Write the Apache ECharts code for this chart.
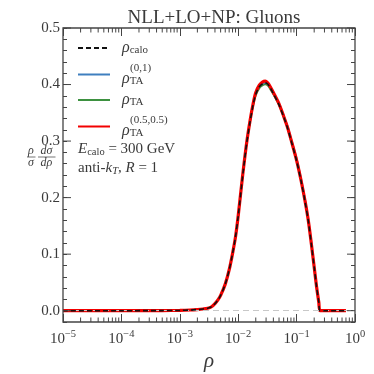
<!DOCTYPE html>
<html>
<head>
<meta charset="utf-8">
<script src="https://cdn.jsdelivr.net/npm/echarts@6/dist/echarts.min.js"></script>
<style>
  html, body { margin: 0; padding: 0; background: #fff; }
  #chart { width: 374px; height: 374px; }
</style>
</head>
<body>
<div id="chart"></div>
<script>
// rho grid (log x) and the four curves
const RHO = [1e-5, 1e-4, 5e-4, 1e-3, 1.5e-3, 2e-3, 2.5e-3, 3e-3, 3.5e-3, 4e-3, 4.5e-3, 5e-3, 6e-3, 7e-3, 8e-3, 9e-3,
  0.01, 0.012, 0.014, 0.016, 0.018, 0.02, 0.023, 0.026, 0.029, 0.032, 0.035, 0.04, 0.05, 0.06, 0.07, 0.08,
  0.1, 0.12, 0.14, 0.16, 0.18, 0.2, 0.22, 0.24, 0.252, 0.3, 0.5, 0.7];
const CALO = [0, 0, 0.0002, 0.0006, 0.0012, 0.002, 0.003, 0.0043, 0.007, 0.0124, 0.019, 0.027, 0.047, 0.072, 0.101, 0.131,
  0.167, 0.241, 0.297, 0.335, 0.364, 0.383, 0.396, 0.401, 0.403, 0.401, 0.395, 0.384, 0.364, 0.343, 0.323, 0.302,
  0.265, 0.228, 0.192, 0.156, 0.115, 0.077, 0.042, 0.015, 0, 0, 0, 0];
const TA01 = [0, 0, 0.0002, 0.0006, 0.0012, 0.002, 0.003, 0.0043, 0.007, 0.0124, 0.019, 0.027, 0.047, 0.072, 0.101, 0.131,
  0.166, 0.240, 0.296, 0.335, 0.364, 0.384, 0.397, 0.401, 0.402, 0.401, 0.396, 0.386, 0.367, 0.346, 0.327, 0.306,
  0.270, 0.233, 0.197, 0.161, 0.120, 0.081, 0.045, 0.017, 0, 0, 0, 0];
const TA = [0, 0, 0.0002, 0.0006, 0.0012, 0.002, 0.003, 0.0043, 0.007, 0.0124, 0.019, 0.027, 0.047, 0.072, 0.101, 0.131,
  0.166, 0.240, 0.295, 0.333, 0.361, 0.380, 0.393, 0.398, 0.400, 0.398, 0.392, 0.382, 0.363, 0.342, 0.322, 0.301,
  0.265, 0.228, 0.192, 0.156, 0.115, 0.077, 0.042, 0.015, 0, 0, 0, 0];
const TA55 = [0, 0, 0.0002, 0.0006, 0.0012, 0.002, 0.003, 0.0043, 0.007, 0.0124, 0.019, 0.027, 0.047, 0.072, 0.101, 0.131,
  0.168, 0.242, 0.298, 0.337, 0.366, 0.386, 0.399, 0.4045, 0.406, 0.403, 0.397, 0.386, 0.366, 0.344, 0.324, 0.303,
  0.266, 0.229, 0.193, 0.157, 0.116, 0.077, 0.042, 0.015, 0, 0, 0, 0];
// tick values: log minor ticks on x, labelled major ticks on y
const MINOR_X = [];
[1e-5, 1e-4, 1e-3, 1e-2, 1e-1].forEach(d => { for (let m = 2; m <= 9; m++) MINOR_X.push(d * m); });
const MAJOR_Y = [0, 0.1, 0.2, 0.3, 0.4, 0.5];

const FONT = '"Liberation Serif", "DejaVu Serif", serif';
const TXT = '#3a3a3a';
const AX = '#444';

const chart = echarts.init(document.getElementById('chart'));

const pairs = (ys) => RHO.map((r, i) => [r, ys[i]]);

const sub = { fontFamily: FONT, fontSize: 11, color: TXT, verticalAlign: 'bottom', lineHeight: 11 };
const sup = { fontFamily: FONT, fontSize: 11, color: TXT, verticalAlign: 'top', lineHeight: 9 };
const rho = { fontFamily: FONT, fontSize: 16, fontStyle: 'italic', color: TXT, lineHeight: 15 };

const legendLabels = {
  calo: '{r|ρ}{sb|calo}',
  TA01: '{sp|}{su|(0,1)}\n{r|ρ}{sb|TA}',
  TA: '{r|ρ}{sb|TA}',
  TA55: '{sp|}{su|(0.5,0.5)}\n{r|ρ}{sb|TA}'
};

const lineSeries = (name, data, color, width, z, type) => ({
  name: name,
  type: 'line',
  data: pairs(data),
  symbol: 'none',
  smooth: 0.3,
  z: z,
  lineStyle: { color: color, width: width, type: type || 'solid' },
  itemStyle: { color: color }
});

const tickStyle = { color: AX, width: 1 };
const fracText = (x, y, t) => ({
  type: 'text', x: x, y: y,
  style: { text: t, font: 'italic 12px ' + FONT, fill: TXT, align: 'center', verticalAlign: 'middle' }
});
const isTenth = v => v >= -1e-9 && Math.abs(v * 10 - Math.round(v * 10)) < 1e-6;

const yAxisBase = {
  type: 'value',
  min: -0.02,
  max: 0.5,
  interval: 0.02,
  axisLine: { show: false, onZero: false },
  axisTick: { inside: true, length: 4, lineStyle: tickStyle },
  splitLine: { show: false }
};
const xAxisBase = {
  type: 'log',
  min: 1e-5,
  max: 1,
  logBase: 10,
  splitNumber: 5,
  axisLine: { show: false, onZero: false },
  axisTick: { inside: true, length: 8, lineStyle: tickStyle },
  splitLine: { show: false }
};

const option = {
  animation: false,
  title: {
    text: 'NLL+LO+NP: Gluons',
    left: 209,
    textAlign: 'center',
    top: 4,
    textStyle: { fontFamily: FONT, fontSize: 19, fontWeight: 'normal', color: TXT }
  },
  grid: { left: 63, right: 19, top: 28, bottom: 52, outerBoundsMode: 'none', containLabel: false },
  legend: {
    data: ['calo', 'TA01', 'TA', 'TA55'],
    orient: 'vertical',
    left: 77,
    top: 40,
    padding: 0,
    itemWidth: 32,
    itemHeight: 14,
    itemGap: 5,
    itemStyle: { opacity: 0 },
    formatter: n => legendLabels[n],
    textStyle: {
      padding: [0, 0, 0, 7],
      rich: {
        r: rho,
        sb: sub,
        su: sup,
        sp: { width: 8, lineHeight: 9 }
      }
    }
  },
  xAxis: [
    Object.assign({}, xAxisBase, {
      position: 'bottom',
      name: 'ρ',
      nameLocation: 'middle',
      nameGap: 23,
      nameTextStyle: { fontFamily: FONT, fontSize: 21, fontStyle: 'italic', color: TXT },
      axisLabel: {
        margin: 7,
        formatter: v => {
          const e = Math.round(Math.log10(v));
          return '{b|10}{s|' + (e < 0 ? '\u2212' + (-e) : e) + '}';
        },
        rich: {
          b: { fontFamily: FONT, fontSize: 15, color: TXT, lineHeight: 20 },
          s: { fontFamily: FONT, fontSize: 10.5, color: TXT, verticalAlign: 'top', lineHeight: 11 }
        }
      }
    }),
    Object.assign({}, xAxisBase, { position: 'top', axisLabel: { show: false } })
  ],
  yAxis: [
    Object.assign({}, yAxisBase, {
      position: 'left',
      axisLabel: {
        margin: 3,
        formatter: v => (isTenth(v) ? v.toFixed(1) : ''),
        fontFamily: FONT, fontSize: 15, color: TXT
      }
    }),
    Object.assign({}, yAxisBase, { position: 'right', axisLabel: { show: false } })
  ],
  graphic: [
    // axes frame
    {
      type: 'rect', z: 100, silent: true,
      shape: { x: 63, y: 28, width: 292, height: 294 },
      style: { fill: null, stroke: AX, lineWidth: 1.3 }
    },
    // y label  (rho/sigma) (d sigma / d rho)
    fracText(31, 151, 'ρ'),
    fracText(31, 163, 'σ'),
    { type: 'line', shape: { x1: 27, y1: 157, x2: 35.5, y2: 157 }, style: { stroke: TXT, lineWidth: 0.7 } },
    fracText(46.5, 151, 'dσ'),
    fracText(46.5, 163, 'dρ'),
    { type: 'line', shape: { x1: 38, y1: 157, x2: 55.5, y2: 157 }, style: { stroke: TXT, lineWidth: 0.7 } },
    // annotations
    {
      type: 'text', x: 78, y: 149,
      style: {
        text: '{i|E}{s|calo}{n| = 300 GeV}',
        verticalAlign: 'middle',
        rich: {
          i: { fontFamily: FONT, fontSize: 15, fontStyle: 'italic', fill: TXT, lineHeight: 18 },
          s: { fontFamily: FONT, fontSize: 10.5, fill: TXT, verticalAlign: 'bottom', lineHeight: 13 },
          n: { fontFamily: FONT, fontSize: 15, fill: TXT, lineHeight: 18 }
        }
      }
    },
    {
      type: 'text', x: 78, y: 168,
      style: {
        text: '{n|anti-}{i|k}{s|T}{n|, }{i|R}{n| = 1}',
        verticalAlign: 'middle',
        rich: {
          i: { fontFamily: FONT, fontSize: 15, fontStyle: 'italic', fill: TXT, lineHeight: 18 },
          s: { fontFamily: FONT, fontSize: 10.5, fontStyle: 'italic', fill: TXT, verticalAlign: 'bottom', lineHeight: 13 },
          n: { fontFamily: FONT, fontSize: 15, fill: TXT, lineHeight: 18 }
        }
      }
    }
  ],
  series: [
    Object.assign(lineSeries('TA01', TA01, '#3f7fbf', 1.5, 2), {
      markLine: {
        silent: true,
        symbol: 'none',
        label: { show: false },
        lineStyle: { color: '#c8c8c8', type: [6, 4], width: 1 },
        data: [{ yAxis: 0 }]
      }
    }),
    lineSeries('TA', TA, '#3d9140', 1.5, 3),
    lineSeries('TA55', TA55, '#f20000', 3.2, 4),
    lineSeries('calo', CALO, '#111', 1.6, 5, [5, 3]),
    {
      // log minor ticks, bottom and top
      name: 'minorX',
      type: 'custom',
      silent: true,
      z: 50,
      clip: false,
      data: MINOR_X.map(v => [v, 0]),
      renderItem: (params, api) => {
        const p = api.coord([api.value(0), 0]);
        const cs = params.coordSys;
        const bottom = cs.y + cs.height;
        const st = { stroke: AX, lineWidth: 1 };
        return {
          type: 'group',
          children: [
            { type: 'line', shape: { x1: p[0], y1: bottom, x2: p[0], y2: bottom - 4.5 }, style: st },
            { type: 'line', shape: { x1: p[0], y1: cs.y, x2: p[0], y2: cs.y + 4.5 }, style: st }
          ]
        };
      }
    },
    {
      // long ticks at the labelled y values, left and right
      name: 'majorY',
      type: 'custom',
      silent: true,
      z: 50,
      clip: false,
      data: MAJOR_Y.map(v => [1e-5, v]),
      renderItem: (params, api) => {
        const p = api.coord([api.value(0), api.value(1)]);
        const cs = params.coordSys;
        const right = cs.x + cs.width;
        const st = { stroke: AX, lineWidth: 1 };
        return {
          type: 'group',
          children: [
            { type: 'line', shape: { x1: cs.x, y1: p[1], x2: cs.x + 8, y2: p[1] }, style: st },
            { type: 'line', shape: { x1: right, y1: p[1], x2: right - 8, y2: p[1] }, style: st }
          ]
        };
      }
    }
  ]
};

chart.setOption(option);
</script>
</body>
</html>
